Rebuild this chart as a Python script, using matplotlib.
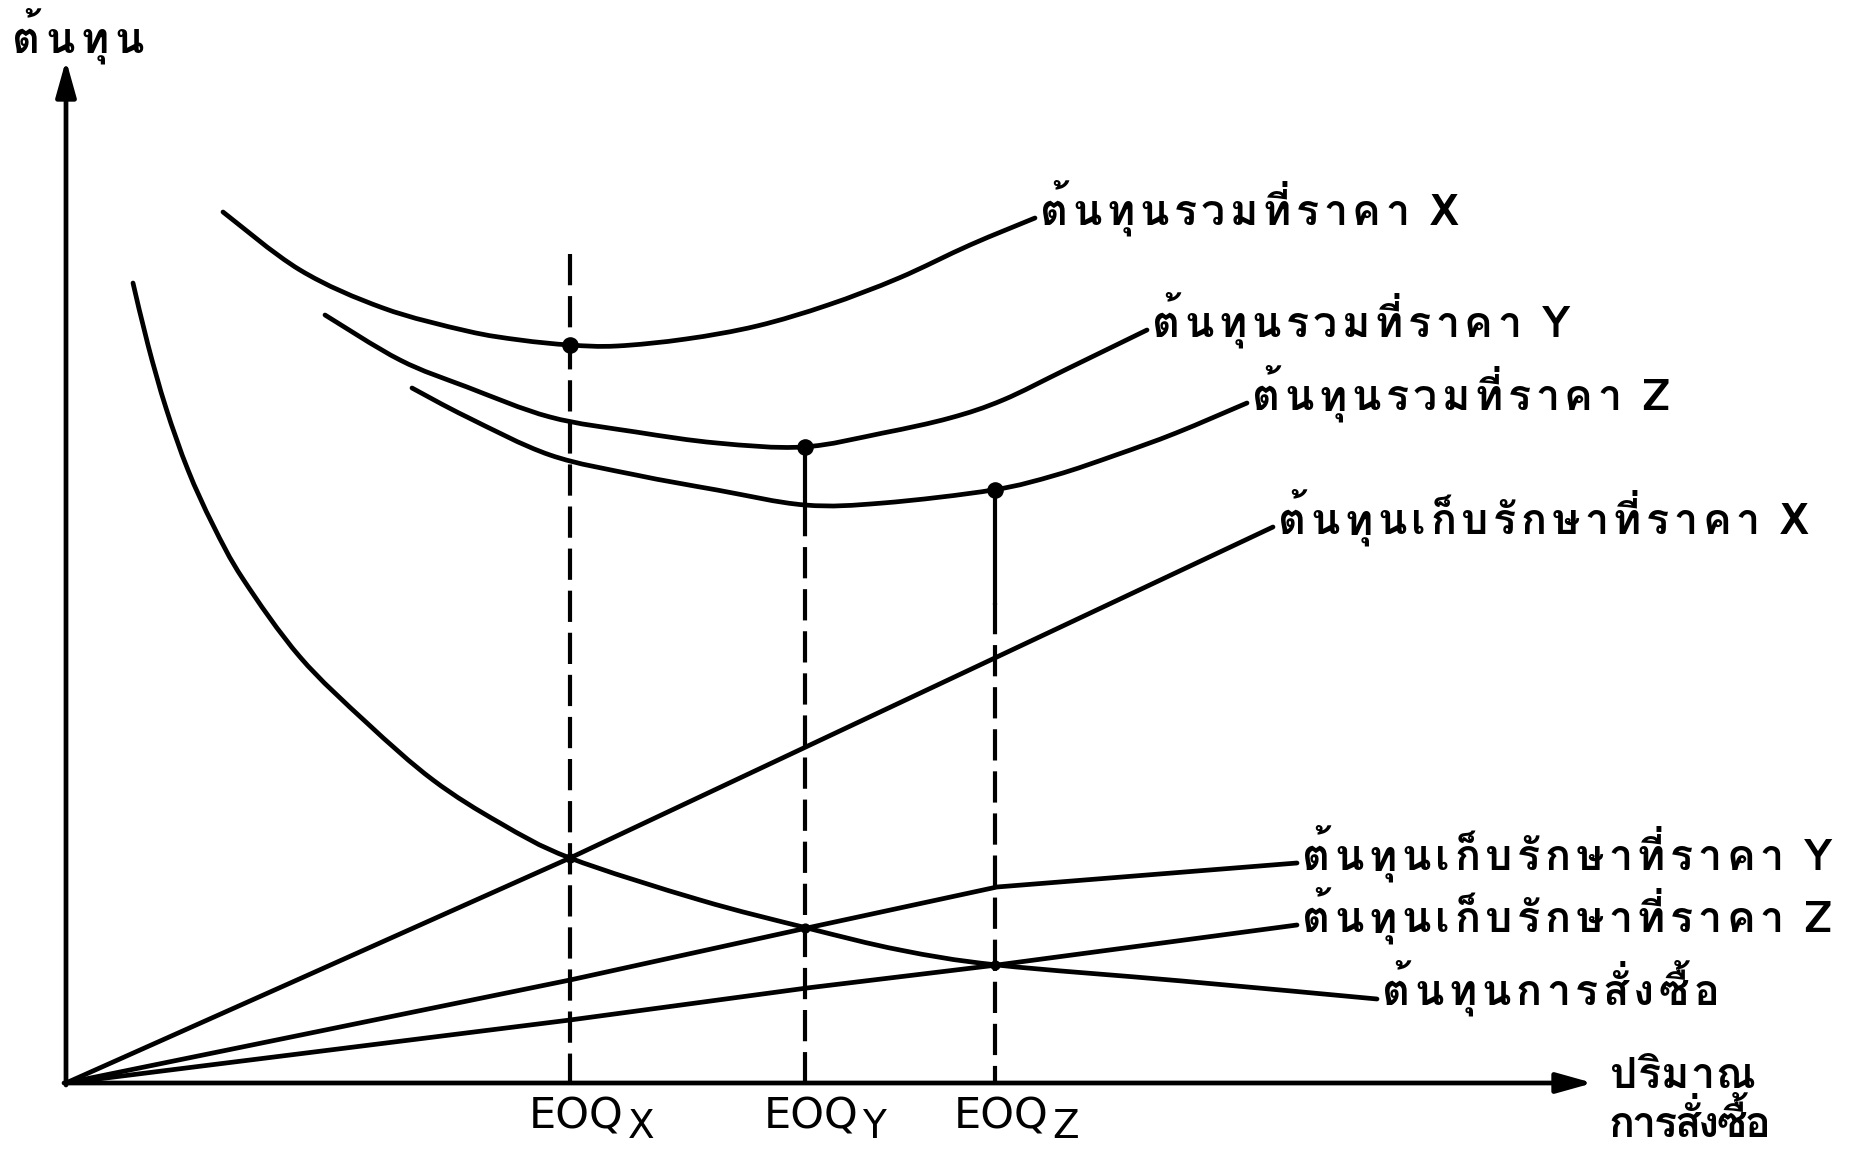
import unicodedata

import matplotlib

matplotlib.use("Agg")
import matplotlib.pyplot as plt
from matplotlib.path import Path
from matplotlib.patches import PathPatch
from matplotlib.transforms import offset_copy

# ---- data (quantity, cost) ----
ordering_q = [6.7, 8.2, 10.0, 12.2, 14.7, 17.7, 23.4, 30.1, 36.7, 43.4, 50.4, 63.4, 74.1, 83.4, 93.1, 111.6, 131.1]
ordering_c = [80.0, 73.8, 67.5, 61.3, 55.8, 50.4, 42.6, 36.0, 30.3, 26.0, 22.5, 18.3, 15.5, 13.3, 11.8, 10.2, 8.4]

total_x_q = [15.7, 23.4, 31.7, 40.1, 45.4, 50.4, 55.1, 62.0, 69.1, 76.2, 83.3, 90.4, 96.9]
total_x_c = [87.1, 81.3, 77.5, 75.2, 74.3, 73.8, 73.7, 74.4, 75.7, 77.8, 80.5, 83.8, 86.5]

total_y_q = [25.9, 33.4, 40.1, 48.4, 57.0, 65.1, 73.7, 81.7, 88.4, 93.7, 100.1, 108.1]
total_y_c = [76.8, 72.3, 69.6, 66.6, 65.1, 64.0, 63.6, 65.0, 66.5, 68.3, 71.4, 75.3]

total_z_q = [34.6, 40.1, 48.4, 57.0, 65.1, 73.9, 81.7, 92.7, 99.0, 105.0, 111.0, 118.1]
total_z_c = [69.5, 66.6, 62.8, 60.8, 59.3, 57.8, 58.0, 59.3, 60.8, 62.8, 65.0, 68.0]

hold_x_q = [0.0, 23.1, 50.4, 120.7]
hold_x_c = [0.0, 10.3, 22.5, 55.6]

hold_y_q = [0.0, 50.4, 74.1, 93.1, 123.1]
hold_y_c = [0.0, 10.3, 15.5, 19.6, 22.0]

hold_z_q = [0.0, 50.4, 74.1, 93.1, 123.1]
hold_z_c = [0.0, 6.3, 9.5, 11.8, 15.8]

eoq_q = [50.4, 73.9, 92.9]
eoq_min_c = [73.8, 63.6, 59.3]
eoq_cross_c = [22.5, 15.5, 11.8]
eoq_names = ["X", "Y", "Z"]

LBL_TOTAL = ["ต้นทุนรวมที่ราคา X", "ต้นทุนรวมที่ราคา Y", "ต้นทุนรวมที่ราคา Z"]
LBL_HOLD = ["ต้นทุนเก็บรักษาที่ราคา X", "ต้นทุนเก็บรักษาที่ราคา Y", "ต้นทุนเก็บรักษาที่ราคา Z"]
LBL_ORDER = "ต้นทุนการสั่งซื้อ"
Y_LABEL = "ต้นทุน"
X_LABEL = ["ปริมาณ", "การสั่งซื้อ"]

THAI = ["Loma", "FreeSerif", "DejaVu Sans"]
INK = "black"
LW = 3.4
TXT = 31

fig = plt.figure(figsize=(18.54, 11.52), dpi=100, facecolor="white")
ax = fig.add_axes([0, 0, 1, 1])
ax.set_xlim(-6.6, 178.8)
ax.set_ylim(-6.9, 108.3)
ax.axis("off")
renderer = fig.canvas.get_renderer()


def smooth(q, c, **kw):
    # Catmull-Rom through the read points, drawn as cubic Beziers
    pts = list(zip(q, c))
    p = [pts[0]] + pts + [pts[-1]]
    verts, codes = [pts[0]], [Path.MOVETO]
    for i in range(1, len(p) - 2):
        p0, p1, p2, p3 = p[i - 1], p[i], p[i + 1], p[i + 2]
        c1 = (p1[0] + (p2[0] - p0[0]) / 6, p1[1] + (p2[1] - p0[1]) / 6)
        c2 = (p2[0] - (p3[0] - p1[0]) / 6, p2[1] - (p3[1] - p1[1]) / 6)
        verts += [c1, c2, p2]
        codes += [Path.CURVE4] * 3
    ax.add_patch(PathPatch(Path(verts, codes), fill=False, **kw))


def clusters(s):
    out = []
    for ch in s:
        if out and unicodedata.category(ch) == "Mn":
            out[-1] += ch
        else:
            out.append(ch)
    return out


def spaced(x, y, s, gap=4.5, space=16, size=TXT):
    # typewriter-like tracking: place each glyph cluster separately
    dx = 0.0
    for cl in clusters(s):
        if cl == " ":
            dx += space
            continue
        tr = offset_copy(ax.transData, fig=fig, x=dx, y=0, units="dots")
        t = ax.text(x, y, cl, transform=tr, fontsize=size, family=THAI,
                    fontweight="bold", color=INK, ha="left", va="baseline")
        dx += t.get_window_extent(renderer).width + gap


# axes with arrows
head = "-|>,head_length=1.0,head_width=0.28"
ax.annotate("", xy=(0, 102.3), xytext=(0, -0.2),
            arrowprops=dict(arrowstyle=head, lw=LW, color=INK, mutation_scale=22,
                            shrinkA=0, shrinkB=0))
ax.annotate("", xy=(152.7, 0), xytext=(-0.2, 0),
            arrowprops=dict(arrowstyle=head, lw=LW, color=INK, mutation_scale=22,
                            shrinkA=0, shrinkB=0))

style = dict(color=INK, lw=LW, capstyle="round", joinstyle="round")
smooth(ordering_q, ordering_c, **style)
spaced(ordering_q[-1] + 0.5, ordering_c[-1] - 0.6, LBL_ORDER)

for q, c, lbl in [(total_x_q, total_x_c, LBL_TOTAL[0]),
                  (total_y_q, total_y_c, LBL_TOTAL[1]),
                  (total_z_q, total_z_c, LBL_TOTAL[2])]:
    smooth(q, c, **style)
    spaced(q[-1] + 0.5, c[-1] - 0.7, lbl)

for q, c, lbl in [(hold_x_q, hold_x_c, LBL_HOLD[0]),
                  (hold_y_q, hold_y_c, LBL_HOLD[1]),
                  (hold_z_q, hold_z_c, LBL_HOLD[2])]:
    ax.plot(q, c, color=INK, lw=LW, solid_capstyle="round", solid_joinstyle="round")
    spaced(q[-1] + 0.5, c[-1] - 0.7, lbl)

# EOQ drop lines
dash = (0, (7.5, 2.6))
ax.plot([eoq_q[0], eoq_q[0]], [82.9, 0], color=INK, lw=3.0, linestyle=dash)
ax.plot([eoq_q[1], eoq_q[1]], [eoq_min_c[1], total_z_c[5]], color=INK, lw=3.0)
ax.plot([eoq_q[1], eoq_q[1]], [total_z_c[5], 0], color=INK, lw=3.0, linestyle=dash)
ax.plot([eoq_q[2], eoq_q[2]], [eoq_min_c[2], 48.0], color=INK, lw=3.0)
ax.plot([eoq_q[2], eoq_q[2]], [48.0, 0], color=INK, lw=3.0, linestyle=dash)

ax.scatter(eoq_q, eoq_min_c, s=120, color=INK, zorder=5)
ax.scatter(eoq_q, eoq_cross_c, s=40, color=INK, zorder=5)

for q, name in zip(eoq_q, eoq_names):
    ax.text(q + 0.6, -1.2, "EOQ", fontsize=31, color=INK, ha="center", va="top",
            family="DejaVu Sans")
    ax.annotate(name, xy=(q + 0.6, -1.2), xytext=(37, -9), textcoords="offset points",
                fontsize=28, color=INK, ha="left", va="top", family="DejaVu Sans")

spaced(-5.4, 103.0, Y_LABEL, gap=5.5)
spaced(154.4, -0.5, X_LABEL[0], gap=0.5)
spaced(154.2, -5.4, X_LABEL[1], gap=-2.5)

fig.savefig("out.png", dpi=100, facecolor="white")
